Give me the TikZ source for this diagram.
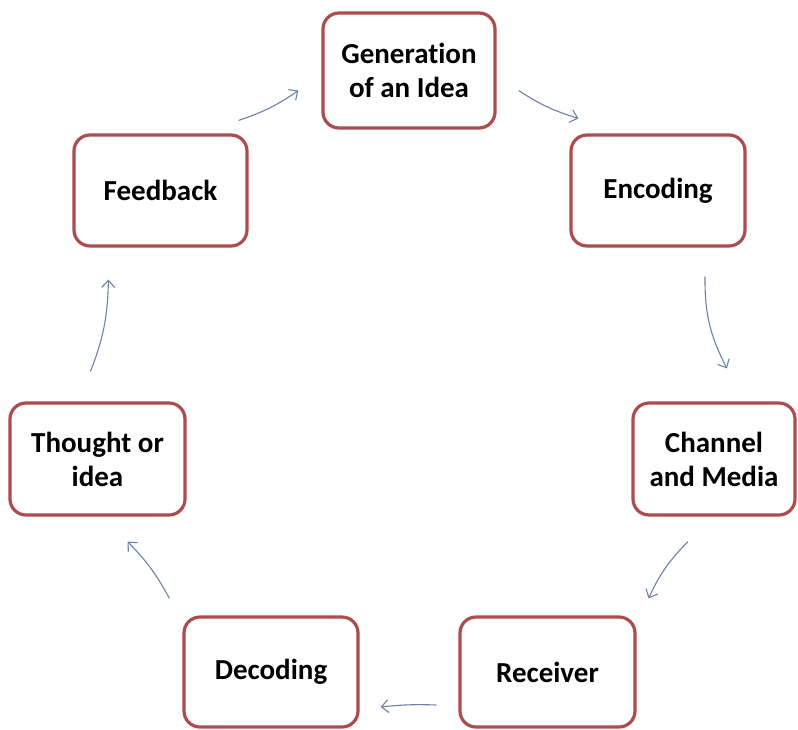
\documentclass[tikz,border=0pt]{standalone}
\usepackage{fontspec}
\setmainfont{Carlito}[Ligatures=NoCommon]
\usetikzlibrary{arrows.meta}
\definecolor{boxred}{RGB}{172,76,76}
\definecolor{arrblue}{RGB}{110,128,170}
\tikzset{
  stagebox/.style={draw=boxred, line width=3.2pt, rounded corners=16pt, fill=white,
    align=center, inner sep=0pt, font=\fontsize{29}{34}\selectfont\bfseries},
  flowarrow/.style={draw=arrblue, line width=1.1pt,
    -{Straight Barb[length=7pt,width=13pt,line width=1.1pt]}}
}
\begin{document}
\begin{tikzpicture}[x=1pt,y=-1pt]
\useasboundingbox (0,0) rectangle (798,729);
\fill[white] (0,0) rectangle (798,729);
\node[stagebox, minimum width=172pt, minimum height=115pt] (gen) at (409,70.5) {Generation\\of an Idea};
\node[stagebox, minimum width=174pt, minimum height=111pt] (enc) at (658,190.5) {Encoding};
\node[stagebox, minimum width=162pt, minimum height=112pt] (ch) at (714,459) {Channel\\and Media};
\node[stagebox, minimum width=175pt, minimum height=110pt] (rec) at (547.5,672) {Receiver};
\node[stagebox, minimum width=174pt, minimum height=110pt] (dec) at (271,672) {Decoding};
\node[stagebox, minimum width=175pt, minimum height=112pt] (th) at (97.5,459) {Thought or\\idea};
\node[stagebox, minimum width=173pt, minimum height=111pt] (fb) at (160.5,190.5) {Feedback};

\draw[flowarrow] ([xshift=-10pt,yshift=13pt]fb.north east) to[bend right=8] ([xshift=-23pt,yshift=-20pt]gen.west);
\draw[flowarrow] ([xshift=22pt,yshift=-20pt]gen.east) to[bend right=8] ([xshift=9pt,yshift=15pt]enc.north west);
\draw[flowarrow] ([xshift=47pt,yshift=-29pt]enc.south) to[bend right=14] ([xshift=13pt,yshift=33pt]ch.north);
\draw[flowarrow] ([xshift=-26pt,yshift=-25pt]ch.south) to[bend right=10] ([xshift=12pt,yshift=17pt]rec.north east);
\draw[flowarrow] ([xshift=-22pt,yshift=-33pt]rec.west) to[bend right=4] ([xshift=21pt,yshift=-35pt]dec.east);
\draw[flowarrow] ([xshift=-13pt,yshift=17pt]dec.north west) to[bend right=8] ([xshift=30pt,yshift=-25pt]th.south);
\draw[flowarrow] ([xshift=-7pt,yshift=30pt]th.north) to[bend right=10] ([xshift=36pt,yshift=-32pt]fb.south west);
\end{tikzpicture}
\end{document}
